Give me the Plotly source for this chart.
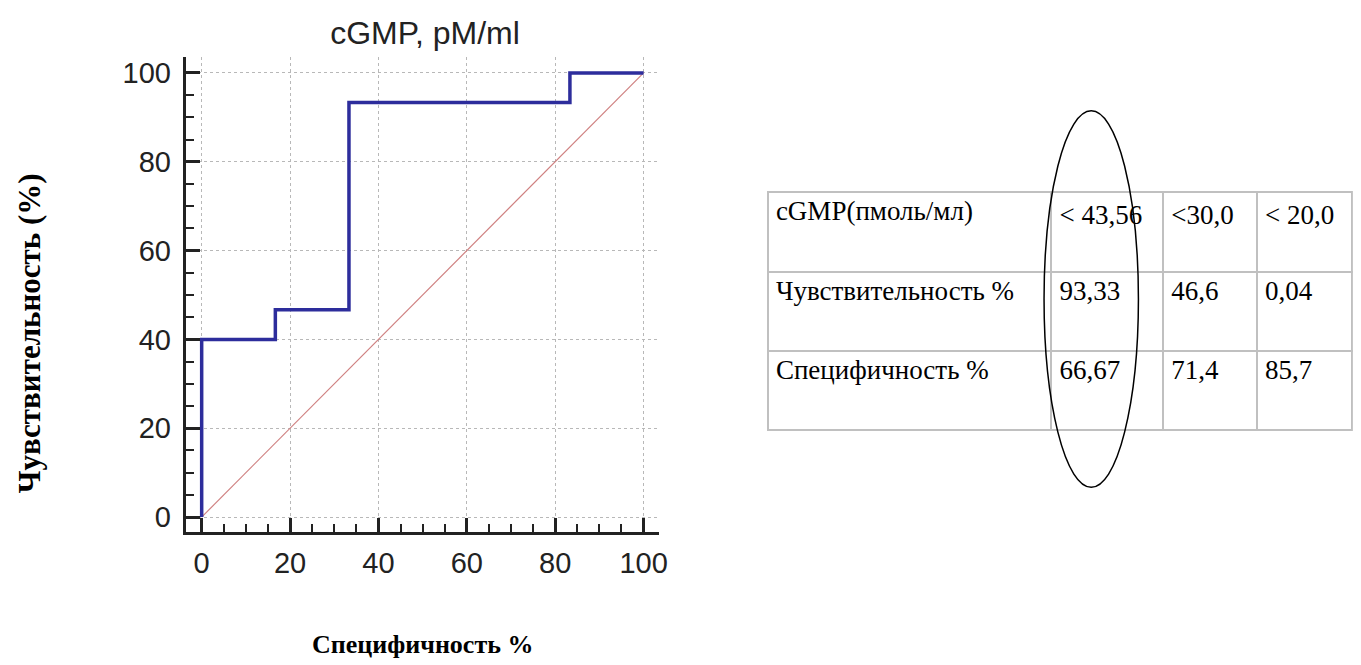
import plotly.graph_objects as go

W, H = 1361, 665

# ROC curve data (100 - specificity, sensitivity)
fpr = [0, 0, 16.67, 33.33, 83.33, 100]
tpr = [0, 40, 46.67, 93.33, 100, 100]
ref_x = [0, 100]
ref_y = [0, 100]

tick_vals = [0, 20, 40, 60, 80, 100]

# Table data
row_labels = ["cGMP(пмоль/мл)", "Чувствительность %", "Специфичность %"]
col_cut1 = ["< 43,56", "93,33", "66,67"]
col_cut2 = ["<30,0", "46,6", "71,4"]
col_cut3 = ["< 20,0", "0,04", "85,7"]

title_text = "cGMP, pM/ml"
y_title = "Чувствительность (%)"
x_title = "Специфичность %"

def px(x):
    return x / W

def py(y):
    return 1 - y / H

fig = go.Figure()

fig.add_trace(go.Scatter(
    x=ref_x, y=ref_y, mode="lines",
    line=dict(color="#cf8080", width=1.2),
    hoverinfo="skip", showlegend=False,
))
fig.add_trace(go.Scatter(
    x=fpr, y=tpr, mode="lines", line_shape="hv",
    line=dict(color="#2d2d9c", width=3.5),
    showlegend=False,
))

table_font = dict(family="Liberation Serif", size=27, color="black")
fig.add_trace(go.Table(
    domain=dict(x=[px(773), 1.0], y=[py(434), py(192)]),
    columnwidth=[287, 113, 95, 96],
    header=dict(
        values=[row_labels[0], col_cut1[0], col_cut2[0], col_cut3[0]],
        align="left", height=80,
        fill_color="white",
        line=dict(color="#c0c0c0", width=2),
        font=table_font,
    ),
    cells=dict(
        values=[row_labels[1:], col_cut1[1:], col_cut2[1:], col_cut3[1:]],
        align="left", height=79,
        fill_color="white",
        line=dict(color="#c0c0c0", width=2),
        font=table_font,
    ),
))

axis_common = dict(
    showline=True, linewidth=3, linecolor="#222",
    ticks="inside", ticklen=14, tickwidth=2.5, tickcolor="#222",
    tickvals=tick_vals,
    showgrid=True, gridcolor="#b8b8b8", gridwidth=1, griddash="dot",
    zeroline=False,
    tickfont=dict(family="Liberation Sans", size=29, color="#222"),
    minor=dict(dtick=5, ticks="inside", ticklen=8, tickwidth=2, tickcolor="#222", showgrid=False),
    fixedrange=True,
)

fig.update_layout(
    width=W, height=H, autosize=False,
    margin=dict(l=0, r=0, t=0, b=0),
    paper_bgcolor="white", plot_bgcolor="white",
    xaxis=dict(domain=[px(187), px(663)], range=[-3.6, 103.4], ticklabelstandoff=3, **axis_common),
    yaxis=dict(domain=[py(533), py(57)], range=[-3.4, 103.6], ticklabelstandoff=6, **axis_common),
    title=dict(text=title_text, x=px(425), y=py(33), xanchor="center", yanchor="middle",
               font=dict(family="Liberation Sans", size=32, color="#222")),
    annotations=[
        dict(text=y_title, x=px(30), y=py(334), xref="paper", yref="paper",
             showarrow=False, textangle=-90, xanchor="center", yanchor="middle",
             font=dict(family="Liberation Serif", size=31, color="black", weight="bold")),
        dict(text=x_title, x=px(425), y=py(645), xref="paper", yref="paper",
             showarrow=False, xanchor="center", yanchor="middle",
             font=dict(family="Liberation Serif", size=26, color="black", weight="bold")),
    ],
    shapes=[
        dict(type="circle", xref="paper", yref="paper",
             x0=px(1051), x1=px(1146), y0=py(488), y1=py(111),
             line=dict(color="black", width=1.5), layer="above"),
    ],
)

fig.write_html("out.html")
